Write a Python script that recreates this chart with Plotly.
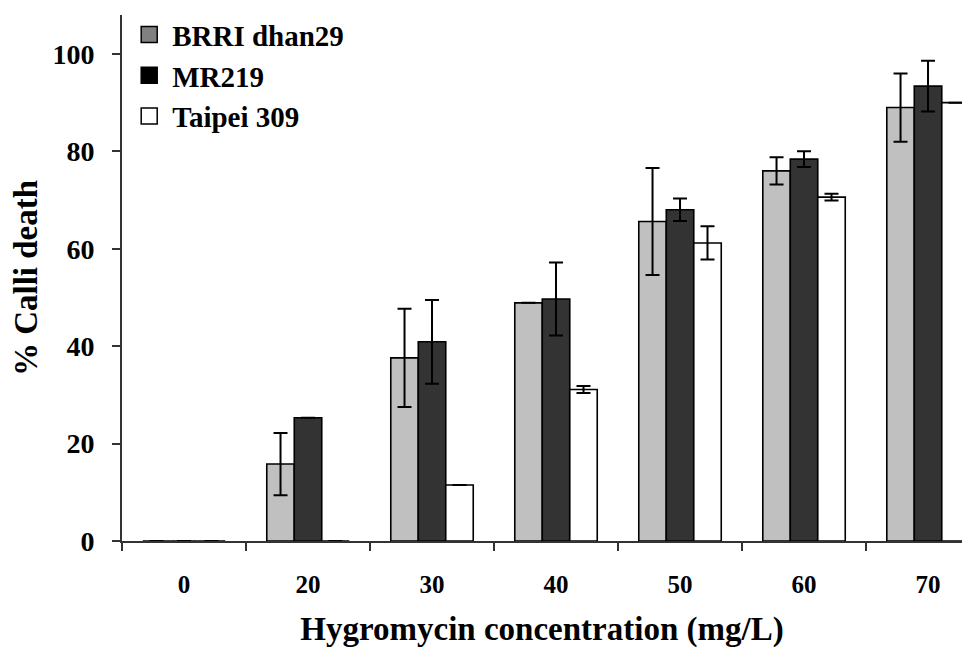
import plotly.graph_objects as go

concentrations = ["0", "20", "30", "40", "50", "60", "70"]
brri_dhan29 = [0, 15.8, 37.6, 48.9, 65.6, 76.0, 89.0]
brri_err = [0, 6.4, 10.1, 0, 11.0, 2.8, 7.0]
mr219 = [0, 25.3, 40.9, 49.7, 68.0, 78.4, 93.4]
mr219_err = [0, 0, 8.6, 7.5, 2.3, 1.6, 5.2]
taipei309 = [0, 0, 11.5, 31.1, 61.2, 70.6, 90.0]
taipei_err = [0, 0, 0, 0.7, 3.4, 0.7, 0]

series_names = ["BRRI dhan29", "MR219", "Taipei 309"]
bar_colors = ["#c0c0c0", "#333333", "#ffffff"]
legend_colors = ["#808080", "#000000", "#ffffff"]
y_ticks = [0, 20, 40, 60, 80, 100]

FONT = "Liberation Serif"

fig = go.Figure()
for name, vals, errs, col in zip(series_names,
                                 [brri_dhan29, mr219, taipei309],
                                 [brri_err, mr219_err, taipei_err],
                                 bar_colors):
    fig.add_trace(go.Bar(
        x=concentrations, y=vals, name=name, showlegend=False,
        marker=dict(color=col, line=dict(color="#000000", width=1.6)),
        error_y=dict(type="data", array=errs, visible=True,
                     color="#000000", thickness=2, width=7),
    ))

# legend entries
for i, (name, col) in enumerate(zip(series_names, legend_colors)):
    fig.add_trace(go.Scatter(
        x=[None], y=[None], mode="markers", name=name,
        legendgroup=f"g{i}",
        marker=dict(symbol="square", size=16, color=col,
                    line=dict(color="#000000", width=1.5)),
    ))

fig.update_layout(
    width=962, height=654,
    margin=dict(l=122, r=0, t=15, b=113),
    paper_bgcolor="white", plot_bgcolor="white",
    barmode="group", bargap=0.335, bargroupgap=0,
    font=dict(family=FONT, color="#000000"),
    legend=dict(x=0.005, y=1.011, xanchor="left", yanchor="top",
                bgcolor="rgba(0,0,0,0)", tracegroupgap=0, itemwidth=36,
                font=dict(family=FONT, size=29, weight="bold", color="#000000")),
    xaxis=dict(
        type="category", range=[-0.5, 6.274],
        showgrid=False, zeroline=False,
        showline=True, linecolor="#333333", linewidth=2,
        ticks="outside", tickson="boundaries", ticklen=8, tickwidth=2,
        tickcolor="#333333",
        tickfont=dict(family=FONT, size=25, weight="bold"),
        ticklabelstandoff=20,
        title=dict(text="Hygromycin concentration (mg/L)",
                   font=dict(family=FONT, size=33, weight="bold"),
                   standoff=20),
        automargin=False,
    ),
    yaxis=dict(
        range=[0, 108], tickvals=y_ticks,
        showgrid=False, zeroline=False,
        showline=True, linecolor="#333333", linewidth=2,
        ticks="outside", ticklen=8, tickwidth=2, tickcolor="#333333",
        tickfont=dict(family=FONT, size=28, weight="bold"),
        ticklabelstandoff=12,
        title=dict(text="% Calli death",
                   font=dict(family=FONT, size=33, weight="bold"),
                   standoff=5),
        automargin=False,
    ),
)

fig.write_html("out.html")
